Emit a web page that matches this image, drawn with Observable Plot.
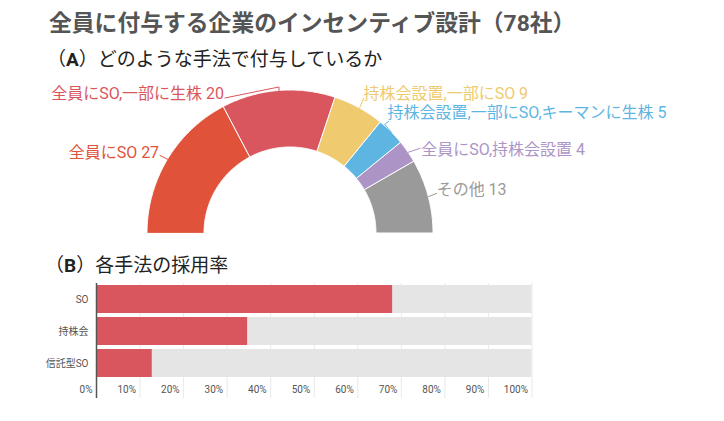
<!DOCTYPE html>
<html>
<head>
<meta charset="utf-8">
<script src="https://cdn.jsdelivr.net/npm/d3@7"></script>
<script src="https://cdn.jsdelivr.net/npm/@observablehq/plot@0.6"></script>
<style>
  html, body { margin: 0; padding: 0; background: #fff; }
  body { font-family: Roboto, "Noto Sans CJK JP", sans-serif; }
  #root { position: relative; width: 724px; height: 421px; overflow: hidden; }
  .t { position: absolute; white-space: nowrap; }
  #title { left: 49px; top: 13px; font-size: 22.8px; line-height: 22px; font-weight: 700; color: #555; }
  #subA { left: 47px; top: 50px; font-size: 19px; line-height: 19px; color: #222; }
  #subB { left: 45px; top: 256px; font-size: 19px; line-height: 19px; color: #222; }
  #donut { position: absolute; left: 0; top: 70px; }
  #bars { position: absolute; left: 0; top: 278px; }
</style>
</head>
<body>
<div id="root">
  <div class="t" id="title">全員に付与する企業のインセンティブ設計（78社）</div>
  <div class="t" id="subA">（<b>A</b>）どのような手法で付与しているか</div>
  <div class="t" id="subB">（<b>B</b>）各手法の採用率</div>
  <div id="donut"></div>
  <div id="bars"></div>
</div>
<script>
// ---- Data ----
const categories = ["全員にSO", "全員にSO,一部に生株", "持株会設置,一部にSO", "持株会設置,一部にSO,キーマンに生株", "全員にSO,持株会設置", "その他"];
const counts = [27, 20, 9, 5, 4, 13];
const sliceColors = ["#e0533a", "#da565e", "#efca6e", "#5fb5e2", "#ad94c6", "#9a9a9a"];

const methods = ["SO", "持株会", "信託型SO"];
const adoption = [0.68, 0.347, 0.128];
const tickValues = [0, 0.1, 0.2, 0.3, 0.4, 0.5, 0.6, 0.7, 0.8, 0.9, 1.0];
const tickLabels = ["0%", "10%", "20%", "30%", "40%", "50%", "60%", "70%", "80%", "90%", "100%"];

// ---- Layout (pixels) ----
const FONT = 'Roboto, "Noto Sans CJK JP", sans-serif';
const R_OUT = 143, R_IN = 86;
// label placement relative to each slice's outer mid point (x right, y down)
const labelLayout = [
  {leader: [[-8, -4]], text: [-9, -7], anchor: "end"},
  {leader: [[0, -4], [-54, 7]], text: [-55, 2.5], anchor: "end"},
  {leader: [[4, -10]], text: [4, -14.5], anchor: "start"},
  {leader: [[-7, -8], [-3, -11]], text: [-4, -20], anchor: "start"},
  {leader: [[12, -4]], text: [13, -2], anchor: "start"},
  {leader: [[8, -3]], text: [8, -7], anchor: "start"}
];

// ---- Donut (half) ----
const total = d3.sum(counts);
const arcRows = [], leaderRows = [], labelRows = [];
let cum = 0;
categories.forEach((name, i) => {
  const a0 = Math.PI - Math.PI * cum / total;
  cum += counts[i];
  const a1 = Math.PI - Math.PI * cum / total;
  const n = Math.max(2, Math.ceil(Math.abs(a0 - a1) / (Math.PI / 360)));
  for (let k = 0; k <= n; k++) {
    const a = a0 + (a1 - a0) * k / n;
    arcRows.push({name, xo: R_OUT * Math.cos(a), yo: R_OUT * Math.sin(a), xi: R_IN * Math.cos(a), yi: R_IN * Math.sin(a)});
  }
  const am = (a0 + a1) / 2;
  const ax = R_OUT * Math.cos(am), ay = R_OUT * Math.sin(am);
  const L = labelLayout[i];
  leaderRows.push({name, x: ax, y: ay});
  L.leader.forEach(([dx, dy]) => leaderRows.push({name, x: ax + dx, y: ay - dy}));
  labelRows.push({name, x: ax + L.text[0], y: ay - L.text[1], label: `${name} ${counts[i]}`, anchor: L.anchor});
});

const donut = Plot.plot({
  width: 724, height: 170,
  margin: 0,
  style: {fontFamily: FONT, background: "transparent"},
  x: {domain: [-290, 434], range: [0, 724], axis: null},
  y: {domain: [-7, 163], range: [170, 0], axis: null},
  color: {domain: categories, range: sliceColors},
  marks: [
    Plot.area(arcRows, {x1: "xo", y1: "yo", x2: "xi", y2: "yi", z: "name", fill: "name", stroke: "white", strokeWidth: 1}),
    Plot.line(leaderRows, {x: "x", y: "y", z: "name", stroke: "name", strokeWidth: 1}),
    Plot.text(labelRows.filter(d => d.anchor === "end"), {x: "x", y: "y", text: "label", fill: "name", textAnchor: "end", fontSize: 16}),
    Plot.text(labelRows.filter(d => d.anchor === "start"), {x: "x", y: "y", text: "label", fill: "name", textAnchor: "start", fontSize: 16})
  ]
});
document.getElementById("donut").appendChild(donut);

// ---- Bars ----
const barRows = methods.map((m, i) => ({method: m, value: adoption[i]}));
const tickRows = tickValues.map((v, i) => ({v, label: tickLabels[i]}));

const bars = Plot.plot({
  width: 724, height: 130,
  marginLeft: 96, marginRight: 192.5, marginTop: 5, marginBottom: 10,
  style: {fontFamily: FONT, fontSize: "10px", background: "transparent"},
  x: {domain: [0, 1], axis: null},
  y: {domain: methods, range: [6.5, 100.5], paddingInner: 0.12, paddingOuter: 0.02, label: null, tickSize: 0, tickPadding: 8},
  marks: [
    Plot.ruleX(tickRows, {x: "v", stroke: "#e9e9e9", strokeWidth: 1}),
    Plot.barX(barRows, {y: "method", x: 1, fill: "#e5e5e5"}),
    Plot.barX(barRows, {y: "method", x: "value", fill: "#da565e"}),
    Plot.ruleX([0], {stroke: "#555", strokeWidth: 1.5}),
    Plot.axisY({tickSize: 0, tickPadding: 8, fill: "#555", fontSize: 10, label: null}),
    Plot.text(tickRows, {x: "v", frameAnchor: "bottom", dy: -6, dx: -4, text: "label", textAnchor: "end", fill: "#555", fontSize: 10})
  ]
});
document.getElementById("bars").appendChild(bars);
</script>
</body>
</html>
